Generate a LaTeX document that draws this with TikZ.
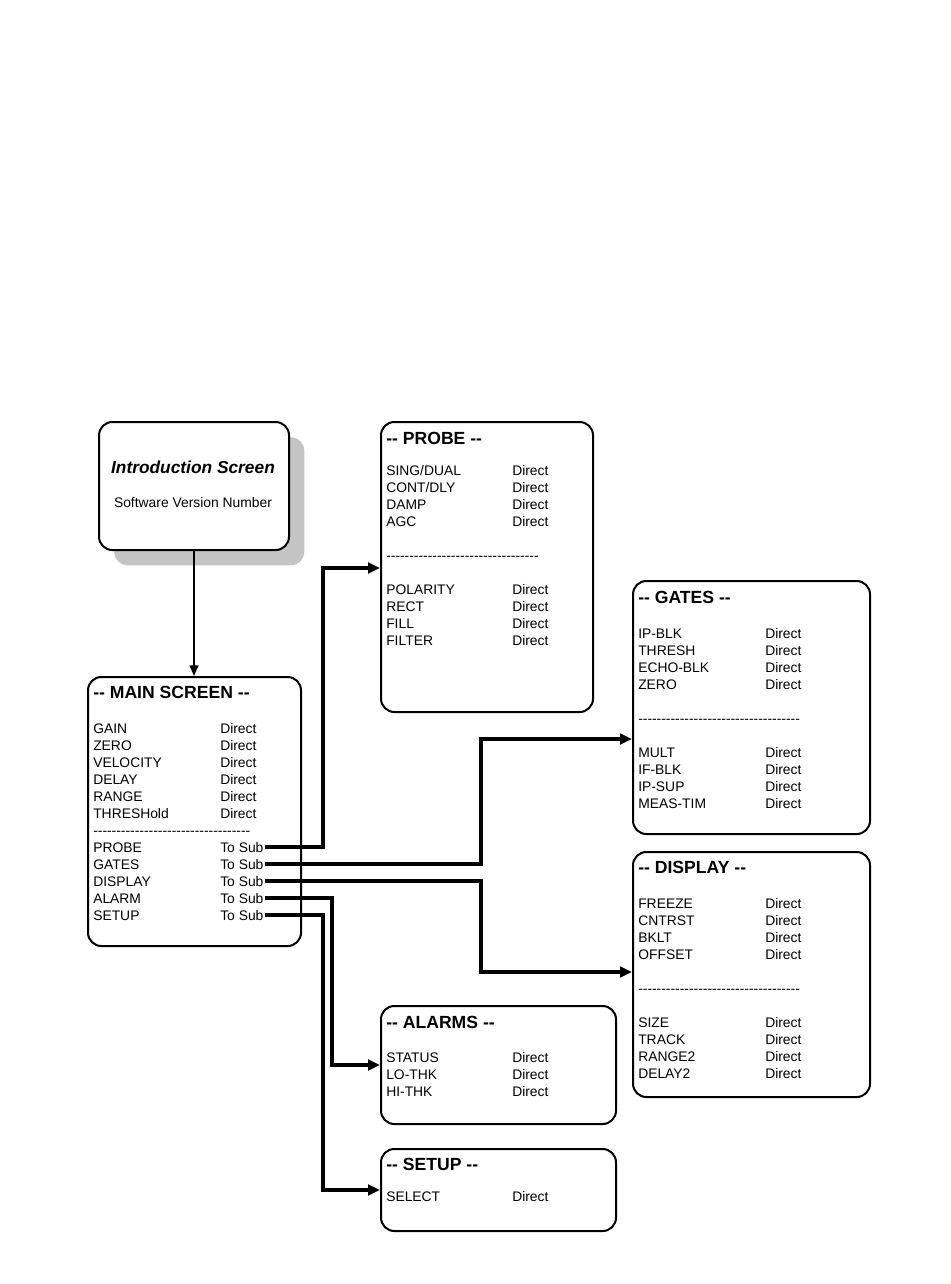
\documentclass[tikz,border=0pt]{standalone}
\usepackage{fontspec}
\setmainfont{Liberation Sans}
\usetikzlibrary{arrows.meta}
\newcommand\hy{\mbox{-}}
\newcommand\dd{\hy\hy}
\newcommand\hyline[1]{\foreach \k in {1,...,#1}{\hy}}
\begin{document}
\begin{tikzpicture}[x=0.75pt,y=-0.75pt,
  box/.style={draw, line width=1.5pt, rounded corners=10pt, fill=white, inner sep=0pt, anchor=north west},
  shadowbox/.style={fill=black!23, rounded corners=10pt, inner sep=0pt, anchor=north west},
  row/.style={anchor=base west, inner sep=0pt, font=\fontsize{10.4pt}{12pt}\selectfont},
  ttl/.style={anchor=base west, inner sep=0pt, font=\fontsize{13.2pt}{15pt}\selectfont\bfseries},
  conn/.style={line width=2.6pt, -{Triangle[length=9pt,width=8pt]}},
  thinarrow/.style={line width=1.5pt, -{Triangle[length=8pt,width=6.5pt]}},
]
\useasboundingbox (0,0) rectangle (950,1284);

% Introduction screen
\node[shadowbox, minimum width=142.5pt, minimum height=96pt] (introShadow) at (114,437) {};
\node[box, minimum width=142.5pt, minimum height=96pt] (intro) at (98,421) {};
\node[inner sep=0pt, font=\fontsize{13pt}{15pt}\selectfont\bfseries\itshape] (introT) at (193,467) {Introduction Screen};
\node[inner sep=0pt, font=\fontsize{10.4pt}{12pt}\selectfont] (introS) at (193,503) {Software Version Number};

% Main screen
\node[box, minimum width=159.75pt, minimum height=201.75pt] (main) at (87,676) {};
\draw[thinarrow] (intro.south) -- (intro.south |- main.north);
\node[ttl] (mainT) at (93,698) {\dd{} MAIN SCREEN \dd};
\foreach \t [count=\i] in {GAIN,ZERO,VELOCITY,DELAY,RANGE,THRESHold} {
  \node[row] (mr\i) at (93,{733+17*(\i-1)}) {\t};
  \node[row] (mv\i) at (220,{733+17*(\i-1)}) {Direct};
}
\node[row] (mdash) at (93,835) {\hyline{34}};
\foreach \t [count=\i] in {PROBE,GATES,DISPLAY,ALARM,SETUP} {
  \node[row] (ml\i) at (93,{852+17*(\i-1)}) {\t};
  \node[row] (ms\i) at (220,{852+17*(\i-1)}) {To Sub};
}

% Probe
\node[box, minimum width=159pt, minimum height=217.5pt] (probe) at (380,421) {};
\node[ttl] (probeT) at (386,444) {\dd{} PROBE \dd};
\foreach \t [count=\i] in {SING/DUAL,CONT/DLY,DAMP,AGC} {
  \node[row] (pr\i) at (386,{475+17*(\i-1)}) {\t};
  \node[row] (pv\i) at (512,{475+17*(\i-1)}) {Direct};
}
\node[row] (pdash) at (386,560) {\hyline{33}};
\foreach \t [count=\i] in {POLARITY,RECT,FILL,FILTER} {
  \node[row] (pq\i) at (386,{594+17*(\i-1)}) {\t};
  \node[row] (pw\i) at (512,{594+17*(\i-1)}) {Direct};
}

% Gates
\node[box, minimum width=177.75pt, minimum height=189.75pt] (gates) at (632,580) {};
\node[ttl] (gatesT) at (638,603) {\dd{} GATES \dd};
\foreach \t [count=\i] in {IP-BLK,THRESH,ECHO-BLK,ZERO} {
  \node[row] (gr\i) at (638,{638+17*(\i-1)}) {\t};
  \node[row] (gv\i) at (765,{638+17*(\i-1)}) {Direct};
}
\node[row] (gdash) at (638,723) {\hyline{35}};
\foreach \t [count=\i] in {MULT,IF-BLK,IP-SUP,MEAS-TIM} {
  \node[row] (gq\i) at (638,{757+17*(\i-1)}) {\t};
  \node[row] (gw\i) at (765,{757+17*(\i-1)}) {Direct};
}

% Display
\node[box, minimum width=177.75pt, minimum height=183.75pt] (disp) at (632,851) {};
\node[ttl] (dispT) at (638,873) {\dd{} DISPLAY \dd};
\foreach \t [count=\i] in {FREEZE,CNTRST,BKLT,OFFSET} {
  \node[row] (dr\i) at (638,{908+17*(\i-1)}) {\t};
  \node[row] (dv\i) at (765,{908+17*(\i-1)}) {Direct};
}
\node[row] (ddash) at (638,993) {\hyline{35}};
\foreach \t [count=\i] in {SIZE,TRACK,RANGE2,DELAY2} {
  \node[row] (dq\i) at (638,{1027+17*(\i-1)}) {\t};
  \node[row] (dw\i) at (765,{1027+17*(\i-1)}) {Direct};
}

% Alarms
\node[box, minimum width=176.25pt, minimum height=88.5pt] (alarms) at (380,1005) {};
\node[ttl] (alarmsT) at (386,1028) {\dd{} ALARMS \dd};
\foreach \t [count=\i] in {STATUS,LO-THK,HI-THK} {
  \node[row] (ar\i) at (386,{1062+17*(\i-1)}) {\t};
  \node[row] (av\i) at (512,{1062+17*(\i-1)}) {Direct};
}

% Setup
\node[box, minimum width=176.25pt, minimum height=61.5pt] (setup) at (380,1148) {};
\node[ttl] (setupT) at (386,1170) {\dd{} SETUP \dd};
\node[row] (sr1) at (386,1201) {SELECT};
\node[row] (sv1) at (512,1201) {Direct};

% connector targets
\coordinate (probeIn) at (380,568);
\coordinate (gatesIn) at (632,739);
\coordinate (dispIn) at (632,972);
\coordinate (alarmIn) at (380,1065);
\coordinate (setupIn) at (380,1190);

\draw[conn] ([xshift=1pt]ms1.east) -| (323,568) -- (probeIn);
\draw[conn] ([xshift=1pt]ms2.east) -| (481,739) -- (gatesIn);
\draw[conn] ([xshift=1pt]ms3.east) -| (481,972) -- (dispIn);
\draw[conn] ([xshift=1pt]ms4.east) -| (332,1065) -- (alarmIn);
\draw[conn] ([xshift=1pt]ms5.east) -| (323,1190) -- (setupIn);
\end{tikzpicture}
\end{document}
